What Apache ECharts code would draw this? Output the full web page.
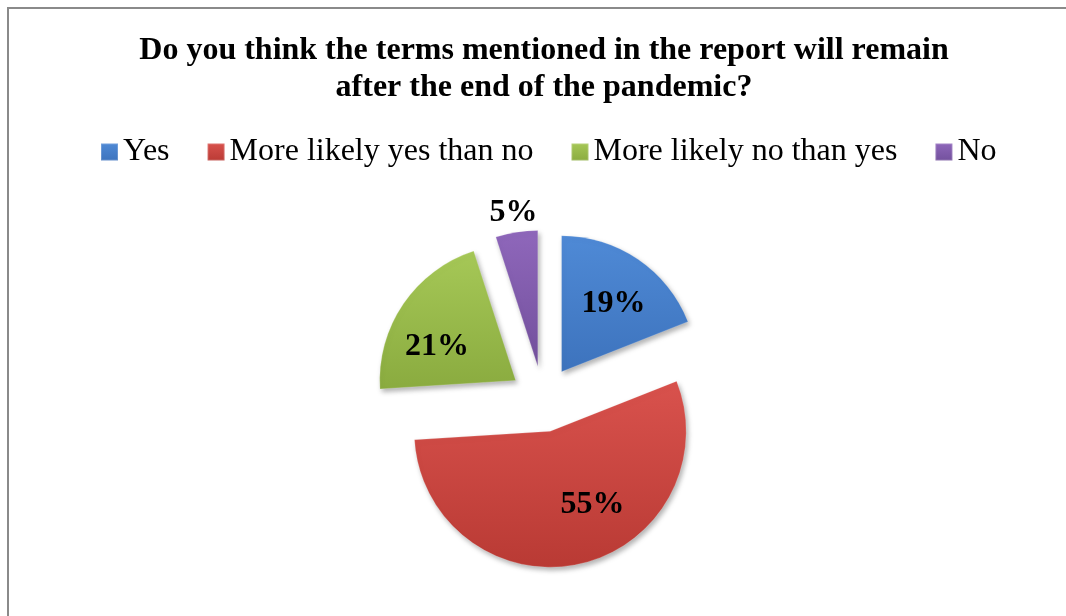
<!DOCTYPE html>
<html>
<head>
<meta charset="utf-8">
<script src="https://cdn.jsdelivr.net/npm/echarts@6/dist/echarts.min.js"></script>
<style>
html,body{margin:0;padding:0;background:#fff;}
#chart{width:1066px;height:616px;}
</style>
</head>
<body>
<div id="chart"></div>
<script>
// ---- data ----
const titleText = 'Do you think the terms mentioned in the report will remain\nafter the end of the pandemic?';
const categories = ['Yes', 'More likely yes than no', 'More likely no than yes', 'No'];
const percentValues = [19, 55, 21, 5];

// ---- styles (kept apart from the data) ----
const sliceColors = [
  ['#4f8ad6', '#3d73bd'],
  ['#d9524d', '#b93a34'],
  ['#a6c857', '#8aab3f'],
  ['#8f67bb', '#72509c']
];
// label nudges in px (x, y) relative to the default inside position
const labelShiftX = [2, 23, -5, 0];
const labelShiftY = [6, -13, 16, 0];
// which labels sit outside the slice (drawn by the far-label ring)
const labelOutside = [false, false, false, true];

const serif = '"Liberation Serif", "Times New Roman", serif';

function grad(c) {
  return new echarts.graphic.LinearGradient(0, 0, 0, 1, [
    { offset: 0, color: c[0] },
    { offset: 1, color: c[1] }
  ]);
}

const pieCenter = [543, 399];
const offset = 33;

const mainData = categories.map((name, i) => {
  const st = {
    color: grad(sliceColors[i]),
    borderColor: 'rgba(255,255,255,0.2)',
    borderWidth: 1,
    shadowBlur: 5,
    shadowColor: 'rgba(0,0,0,0.3)',
    shadowOffsetX: 2,
    shadowOffsetY: 3
  };
  return { name: name, value: percentValues[i], selected: true, itemStyle: st, select: { itemStyle: st } };
});

function labelFor(i, show) {
  const sx = labelShiftX[i], sy = labelShiftY[i];
  const pad = [0, sx < 0 ? -2 * sx : 0, 0, sx > 0 ? 2 * sx : 0];
  const lbl = { show: show, padding: pad };
  if (sy < 0) { lbl.formatter = '{c}%\n'; lbl.lineHeight = -2 * sy; }
  else if (sy > 0) { lbl.formatter = '\n{c}%'; lbl.lineHeight = 2 * sy; }
  return lbl;
}

function ringData(outer) {
  return categories.map((name, i) => {
    const lbl = labelFor(i, labelOutside[i] === outer);
    return {
      name: name,
      value: percentValues[i],
      selected: true,
      label: lbl,
      select: { label: lbl, itemStyle: { color: 'rgba(0,0,0,0)' } }
    };
  });
}

function labelRing(radius, outer) {
  return {
    type: 'pie',
    center: pieCenter,
    radius: radius,
    startAngle: 90,
    clockwise: true,
    selectedMode: 'multiple',
    selectedOffset: offset,
    silent: true,
    legendHoverLink: false,
    itemStyle: { color: 'rgba(0,0,0,0)' },
    emphasis: { disabled: true },
    label: {
      show: true,
      position: 'inside',
      formatter: '{c}%',
      fontFamily: serif,
      fontSize: 32,
      fontWeight: 'bold',
      color: '#000'
    },
    labelLine: { show: false },
    data: ringData(outer)
  };
}

const chart = echarts.init(document.getElementById('chart'), null, { renderer: 'canvas' });
chart.setOption({
  animation: false,
  backgroundColor: '#ffffff',
  graphic: [{
    type: 'rect',
    silent: true,
    z: 100,
    shape: { x: 8, y: 8, width: 1200, height: 800 },
    style: { fill: 'none', stroke: '#8a8a8a', lineWidth: 2 }
  }],
  title: {
    text: titleText,
    left: 539,
    textAlign: 'center',
    top: 27,
    textStyle: { fontFamily: serif, fontSize: 32, fontWeight: 'bold', color: '#000', lineHeight: 37 }
  },
  legend: {
    data: categories,
    top: 131,
    left: 95,
    itemGap: 37,
    itemWidth: 17,
    itemHeight: 17,
    icon: 'rect',
    selectedMode: false,
    textStyle: { fontFamily: serif, fontSize: 32, color: '#000' }
  },
  series: [
    {
      type: 'pie',
      center: pieCenter,
      radius: 136,
      startAngle: 90,
      clockwise: true,
      selectedMode: 'multiple',
      selectedOffset: offset,
      silent: true,
      label: { show: false },
      labelLine: { show: false },
      emphasis: { disabled: true },
      data: mainData
    },
    labelRing(172, false),
    labelRing(306, true)
  ]
});
</script>
</body>
</html>
